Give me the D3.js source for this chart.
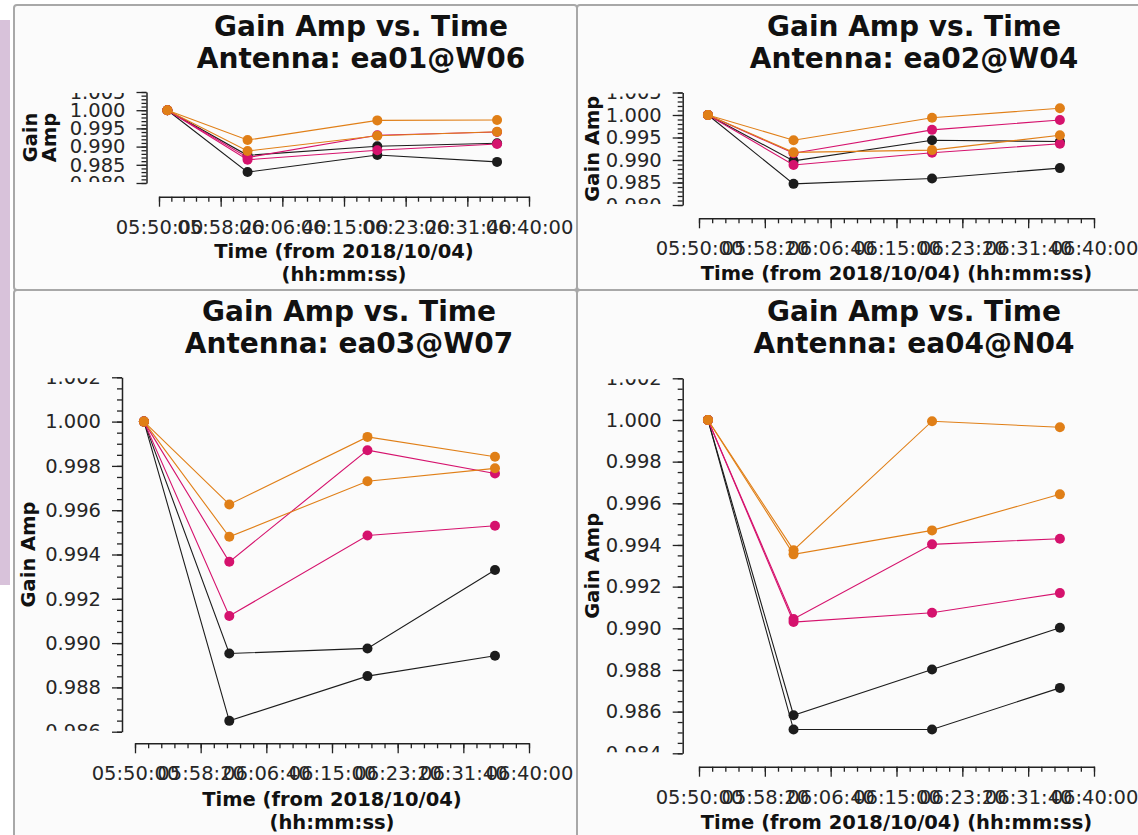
<!DOCTYPE html>
<html>
<head>
<meta charset="utf-8">
<script src="https://cdn.jsdelivr.net/npm/d3@7"></script>
<style>
  body { margin: 0; background: #ffffff; }
  svg { display: block; font-family: 'DejaVu Sans', sans-serif; }
</style>
</head>
<body>
<div id="chart"></div>
<script>
// solution times of the four gain solutions (hh:mm:ss, 2018/10/04)
const SOLUTION_TIMES = ['05:51:08', '06:01:58', '06:19:30', '06:35:41'];
const X_TICK_LABELS = ['05:50:00', '05:58:20', '06:06:40', '06:15:00', '06:23:20', '06:31:40', '06:40:00'];
const ANTENNAS = ['ea01@W06', 'ea02@W04', 'ea03@W07', 'ea04@N04'];
// six curves per antenna, drawn in this order
const SERIES = ['black-1', 'black-2', 'magenta-1', 'magenta-2', 'orange-1', 'orange-2'];

const EA01_GAIN = [
  [1.0000, 0.9876, 0.9901, 0.9909],
  [1.0000, 0.9830, 0.9877, 0.9858],
  [1.0000, 0.9870, 0.9931, 0.9940],
  [1.0000, 0.9864, 0.9890, 0.9907],
  [1.0000, 0.9918, 0.9972, 0.9973],
  [1.0000, 0.9888, 0.9930, 0.9941]
];
const EA02_GAIN = [
  [1.0000, 0.9898, 0.9944, 0.9941],
  [1.0000, 0.9847, 0.9859, 0.9882],
  [1.0000, 0.9915, 0.9967, 0.9989],
  [1.0000, 0.9889, 0.9916, 0.9936],
  [1.0000, 0.9944, 0.9994, 1.0015],
  [1.0000, 0.9917, 0.9922, 0.9955]
];
const EA03_GAIN = [
  [1.0000, 0.98953, 0.98976, 0.99330],
  [1.0000, 0.98649, 0.98851, 0.98943],
  [1.0000, 0.99367, 0.99871, 0.99766],
  [1.0000, 0.99122, 0.99486, 0.99530],
  [1.0000, 0.99626, 0.99931, 0.99841],
  [1.0000, 0.99480, 0.99731, 0.99789]
];
const EA04_GAIN = [
  [1.0000, 0.98583, 0.98802, 0.99003],
  [1.0000, 0.98514, 0.98514, 0.98714],
  [1.0000, 0.99045, 0.99403, 0.99430],
  [1.0000, 0.99030, 0.99075, 0.99169],
  [1.0000, 0.99375, 0.99994, 0.99965],
  [1.0000, 0.99355, 0.99470, 0.99643]
];

const Y_TICKS_EA01 = [0.980, 0.985, 0.990, 0.995, 1.000, 1.005];
const Y_TICKS_EA02 = [0.980, 0.985, 0.990, 0.995, 1.000, 1.005];
const Y_TICKS_EA03 = [0.986, 0.988, 0.990, 0.992, 0.994, 0.996, 0.998, 1.000, 1.002];
const Y_TICKS_EA04 = [0.984, 0.986, 0.988, 0.990, 0.992, 0.994, 0.996, 0.998, 1.000, 1.002];

(function () {
  'use strict';

  const COLORS = {
    black: '#1c1c1c',
    magenta: '#d5126d',
    orange: '#e07f17'
  };
  const parseTime = d3.timeParse('%H:%M:%S');
  const formatTime = d3.timeFormat('%H:%M:%S');

  var width = 1138;
  var height = 835;

  /* panel geometry, one per antenna */
  var panels = [
    {
      frame: [14, 5, 563, 285], gain: EA01_GAIN, yTicks: Y_TICKS_EA01, yMinor: 0.001,
      yAxisX: 146.5, yTop: 92, yBottom: 183, xAxisY: 196.7, xLeft: 159, xRight: 529,
      titleX: 361, titleY: 35.7,
      yTitle: ['Gain', 'Amp'], yTitleX: [37, 56],
      xTitle: ['Time (from 2018/10/04)', '(hh:mm:ss)'], xTitleY: [258, 281]
    },
    {
      frame: [577, 5, 575, 285], gain: EA02_GAIN, yTicks: Y_TICKS_EA02, yMinor: 0.001,
      yAxisX: 682.7, yTop: 92.5, yBottom: 205, xAxisY: 218.3, xLeft: 699, xRight: 1094,
      titleX: 914, titleY: 35.7,
      yTitle: ['Gain Amp'], yTitleX: [599],
      xTitle: ['Time (from 2018/10/04) (hh:mm:ss)'], xTitleY: [280]
    },
    {
      frame: [14, 290, 563, 560], gain: EA03_GAIN, yTicks: Y_TICKS_EA03, yMinor: 0.0005,
      yAxisX: 122, yTop: 377.3, yBottom: 731.7, xAxisY: 743.3, xLeft: 135, xRight: 529,
      titleX: 349, titleY: 320.7,
      yTitle: ['Gain Amp'], yTitleX: [35],
      xTitle: ['Time (from 2018/10/04)', '(hh:mm:ss)'], xTitleY: [806, 829]
    },
    {
      frame: [577, 290, 575, 560], gain: EA04_GAIN, yTicks: Y_TICKS_EA04, yMinor: 0.0005,
      yAxisX: 682.7, yTop: 378.3, yBottom: 753.3, xAxisY: 766.7, xLeft: 699, xRight: 1094,
      titleX: 914, titleY: 320.7,
      yTitle: ['Gain Amp'], yTitleX: [599],
      xTitle: ['Time (from 2018/10/04) (hh:mm:ss)'], xTitleY: [829]
    }
  ];

  var svg = d3.select('#chart').append('svg')
    .attr('width', width)
    .attr('height', height);

  var defs = svg.append('defs');

  /* lavender strip on the far left */
  svg.append('rect')
    .attr('x', 0)
    .attr('y', 20)
    .attr('width', 10)
    .attr('height', 565)
    .attr('fill', '#d8c2da');

  panels.forEach(function (p, i) {
    _drawPanel(p, i);
  });

  function _drawPanel(p, i) {
    var g = svg.append('g');

    g.append('rect')
      .attr('x', p.frame[0])
      .attr('y', p.frame[1])
      .attr('width', p.frame[2])
      .attr('height', p.frame[3])
      .attr('rx', 3)
      .attr('fill', '#fbfbfb')
      .attr('stroke', '#a8a8a8')
      .attr('stroke-width', 2);

    /* title */
    var title = g.append('text')
      .attr('x', p.titleX)
      .attr('y', p.titleY)
      .attr('text-anchor', 'middle')
      .attr('font-size', 28)
      .attr('font-weight', 'bold')
      .attr('fill', '#111');
    title.append('tspan').attr('x', p.titleX).text('Gain Amp vs. Time');
    title.append('tspan').attr('x', p.titleX).attr('dy', 32.6).text('Antenna: ' + ANTENNAS[i]);

    var start = parseTime(X_TICK_LABELS[0]);
    var end = parseTime(X_TICK_LABELS[X_TICK_LABELS.length - 1]);

    var x = d3.scaleTime()
      .domain([start, end])
      .range([p.xLeft, p.xRight]);

    var y = d3.scaleLinear()
      .domain(d3.extent(p.yTicks))
      .range([p.yBottom, p.yTop]);

    /* x axis: backbone on top, ticks hanging down */
    var minorX = d3.range(0, (end - start) / 1000 + 1, 100).map(function (s) {
      return new Date(start.getTime() + s * 1000);
    });
    g.append('g')
      .attr('transform', 'translate(0,' + p.xAxisY + ')')
      .call(d3.axisBottom(x).tickValues(minorX).tickSize(5).tickSizeOuter(0).tickFormat(''))
      .call(_styleAxis);
    g.append('g')
      .attr('transform', 'translate(0,' + p.xAxisY + ')')
      .call(d3.axisBottom(x)
        .tickValues(X_TICK_LABELS.map(parseTime))
        .tickFormat(formatTime)
        .tickSize(10)
        .tickSizeOuter(0)
        .tickPadding(13))
      .call(_styleAxis)
      .call(function (a) { a.select('.domain').remove(); });

    /* y axis: backbone on the right, ticks to the left */
    var yDomain = y.domain();
    var nMinor = Math.round((yDomain[1] - yDomain[0]) / p.yMinor);
    var minorY = d3.range(0, nMinor + 1).map(function (k) { return yDomain[0] + k * p.yMinor; });
    g.append('g')
      .attr('transform', 'translate(' + p.yAxisX + ',0)')
      .call(d3.axisLeft(y).tickValues(minorY).tickSize(5).tickSizeOuter(0).tickFormat(''))
      .call(_styleAxis);
    g.append('g')
      .attr('transform', 'translate(' + p.yAxisX + ',0)')
      .call(d3.axisLeft(y).tickValues(p.yTicks).tickSize(10).tickSizeOuter(0).tickFormat(''))
      .call(_styleAxis)
      .call(function (a) { a.select('.domain').remove(); });

    /* y labels clipped at the ends of the scale, as in the original */
    var clipId = 'yclip' + i;
    defs.append('clipPath')
      .attr('id', clipId)
      .append('rect')
      .attr('x', -200)
      .attr('y', p.yTop + 1)
      .attr('width', 200)
      .attr('height', p.yBottom - p.yTop - 2);
    g.append('g')
      .attr('transform', 'translate(' + p.yAxisX + ',0)')
      .append('g')
      .attr('clip-path', 'url(#' + clipId + ')')
      .call(d3.axisLeft(y).tickValues(p.yTicks).tickSize(0).tickPadding(21).tickFormat(d3.format('.3f')))
      .call(_styleAxis)
      .call(function (a) { a.select('.domain').remove(); });

    /* axis titles */
    var xMid = (p.xLeft + p.xRight) / 2;
    p.xTitle.forEach(function (t, k) {
      g.append('text')
        .attr('x', xMid)
        .attr('y', p.xTitleY[k])
        .attr('text-anchor', 'middle')
        .attr('font-size', 19.5)
        .attr('font-weight', 'bold')
        .attr('fill', '#111')
        .text(t);
    });
    var yMid = (p.yTop + p.yBottom) / 2;
    p.yTitle.forEach(function (t, k) {
      g.append('text')
        .attr('transform', 'translate(' + p.yTitleX[k] + ',' + yMid + ') rotate(-90)')
        .attr('text-anchor', 'middle')
        .attr('font-size', 19.5)
        .attr('font-weight', 'bold')
        .attr('fill', '#111')
        .text(t);
    });

    /* curves */
    var times = SOLUTION_TIMES.map(parseTime);
    var line = d3.line()
      .x(function (d) { return x(d.t); })
      .y(function (d) { return y(d.v); });

    p.gain.forEach(function (values, s) {
      var color = COLORS[SERIES[s].split('-')[0]];
      var pts = values.map(function (v, k) { return { t: times[k], v: v }; });
      g.append('path')
        .datum(pts)
        .attr('d', line)
        .attr('fill', 'none')
        .attr('stroke', color)
        .attr('stroke-width', 1.1);
      g.selectAll(null)
        .data(pts)
        .enter()
        .append('circle')
        .attr('cx', function (d) { return x(d.t); })
        .attr('cy', function (d) { return y(d.v); })
        .attr('r', 5)
        .attr('fill', color);
    });
  }

  function _styleAxis(a) {
    a.attr('font-family', null).attr('font-size', null);
    a.selectAll('line').attr('stroke', '#222').attr('stroke-width', 1.3);
    a.selectAll('.domain').attr('stroke', '#222').attr('stroke-width', 1.5);
    a.selectAll('text')
      .attr('font-size', 19.5)
      .attr('fill', '#262626');
  }
}());
</script>
</body>
</html>
